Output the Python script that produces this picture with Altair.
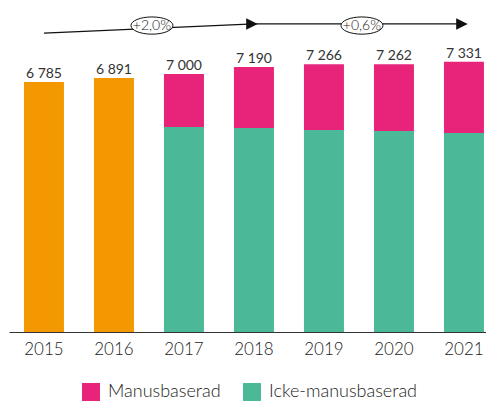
import altair as alt
import pandas as pd

years = ["2015", "2016", "2017", "2018", "2019", "2020", "2021"]
totals = [6785, 6891, 7000, 7190, 7266, 7262, 7331]
total_only = [6785, 6891, None, None, None, None, None]
icke = [None, None, 5563, 5536, 5482, 5455, 5400]
manus = [None, None, 1437, 1654, 1784, 1807, 1931]

trend_years = ["2015", "2018", "2018", "2021"]
trend_values = [8110, 8360, 8360, 8360]
trend_segment = [0, 0, 1, 1]
arrow_years = ["2018", "2021"]
arrow_values = [8360, 8360]
change_years = ["2016", "2019"]
change_values = [8315, 8315]
change_text = ["+2,0%", "+0,6%"]

ORANGE = "#F39800"
PINK = "#E8247A"
GREEN = "#4BB897"
FONT = "Lato"

rows = []
for y, t, i, m in zip(years, total_only, icke, manus):
    if t is not None:
        rows.append({"year": y, "series": "Totalt", "value": t, "ord": 0})
    if i is not None:
        rows.append({"year": y, "series": "Icke-manusbaserad", "value": i, "ord": 0})
    if m is not None:
        rows.append({"year": y, "series": "Manusbaserad", "value": m, "ord": 1})
bars_df = pd.DataFrame(rows)

labels_df = pd.DataFrame({
    "year": years,
    "total": totals,
    "label": [f"{v:,}".replace(",", " ") for v in totals],
})
trend_df = pd.DataFrame({"year": trend_years, "value": trend_values, "seg": trend_segment})
arrow_df = pd.DataFrame({"year": arrow_years, "value": arrow_values})
change_df = pd.DataFrame({"year": change_years, "value": change_values, "text": change_text})

x = alt.X(
    "year:N",
    sort=years,
    scale=alt.Scale(paddingInner=0.4286, paddingOuter=0.1214, align=0.88),
    axis=alt.Axis(
        title=None, labelAngle=0, ticks=False, domainColor="#333333",
        labelFontSize=17, labelColor="#222222", labelFont=FONT, labelPadding=9,
        labelFontWeight=300, domainWidth=1,
    ),
)
yscale = alt.Scale(domain=[0, 8710], nice=False)

bars = alt.Chart(bars_df).mark_bar().encode(
    x=x,
    y=alt.Y("value:Q", stack="zero", scale=yscale, axis=None),
    color=alt.Color(
        "series:N",
        scale=alt.Scale(domain=["Totalt", "Manusbaserad", "Icke-manusbaserad"],
                        range=[ORANGE, PINK, GREEN]),
        legend=alt.Legend(
            values=["Manusbaserad", "Icke-manusbaserad"], title=None,
            orient="none", legendX=73, legendY=372,
            direction="horizontal", symbolType="square",
            symbolSize=324, symbolStrokeWidth=0, labelFontSize=18,
            labelFont=FONT, labelFontWeight=300, labelColor="#222222",
            columnPadding=22, labelOffset=8,
        ),
    ),
    order=alt.Order("ord:Q"),
)

labels = alt.Chart(labels_df).mark_text(
    baseline="alphabetic", dy=-4, fontSize=14, font=FONT, fontWeight=400,
    color="#333333"
).encode(x=x, y=alt.Y("total:Q", scale=yscale), text="label:N")

trend = alt.Chart(trend_df).mark_line(color="#111111", strokeWidth=1.2).encode(
    x=x, y=alt.Y("value:Q", scale=yscale), detail="seg:N"
)

arrows = alt.Chart(arrow_df).mark_point(
    shape="M -1,-1 L 1,0 L -1,1 Z", filled=True, color="#111111",
    size=132, opacity=1, xOffset=-2,
).encode(x=x, y=alt.Y("value:Q", scale=yscale))

ellipses = alt.Chart(change_df).mark_point(
    shape="M -1,0 A 1,0.41 0 1,0 1,0 A 1,0.41 0 1,0 -1,0 Z", filled=True,
    fill="white", stroke="#111111", strokeWidth=1, size=1764, opacity=1,
    xOffset=38,
).encode(x=x, y=alt.Y("value:Q", scale=yscale))

change_labels = alt.Chart(change_df).mark_text(
    fontSize=14, font=FONT, fontWeight=300, color="#222222", xOffset=38,
    baseline="middle"
).encode(x=x, y=alt.Y("value:Q", scale=yscale), text="text:N")

chart = alt.layer(bars, labels, trend, arrows, ellipses, change_labels).properties(
    width=477, height=321,
    padding={"left": 1, "top": 3, "right": 0, "bottom": 72},
    autosize=alt.AutoSizeParams(type="none"),
    background="white",
).configure_view(stroke=None)

chart.save("out.html", embed_options={"renderer": "svg", "actions": False})
